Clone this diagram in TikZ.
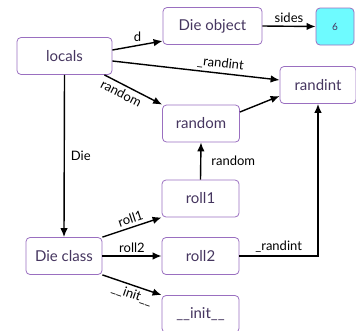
\documentclass[tikz,border=0pt]{standalone}
\usepackage{fontspec}
\setmainfont{Lato}
\usepackage{tikz}
\usetikzlibrary{positioning}
\usetikzlibrary{arrows.meta,calc}
\definecolor{boxline}{HTML}{9A6FC0}
\definecolor{boxtext}{HTML}{45355F}
\definecolor{valfill}{HTML}{6EFBFF}
\tikzset{line/.style={draw, line width=1.4pt, -{Latex[length=9pt,width=7.5pt]}}}
\tikzset{lbl/.style={font=\fontsize{13}{15}\selectfont, inner sep=3pt}}

\begin{document}
\begin{tikzpicture}[x=1pt, y=-1pt]
\tikzstyle{block} = [rectangle, rounded corners=4pt, draw=boxline, line width=0.8pt, text=boxtext, minimum width=77pt, minimum height=37pt, font=\fontsize{15}{17}\selectfont]
\tikzstyle{value} = [block, fill=valfill, minimum width=38pt, font=\fontsize{10}{12}\selectfont]
\useasboundingbox (0,0) rectangle (356,330);

% blocks
    \node [block, minimum width=95pt](locals) at (64.5,56) {locals};
    \node [block, minimum width=99pt](dieobj) at (212.5,26) {Die object};
    \node [value](six) at (335,26.5) {6};
    \node [block, minimum width=76pt](randint) at (318,85) {randint};
    \node [block](random) at (201,123.5) {random};
    \node [block](rollone) at (200.5,198.5) {roll1};
    \node [block, minimum width=76pt](dieclass) at (64,256) {Die class};
    \node [block](rolltwo) at (200.5,256) {roll2};
    \node [block](init) at (200.5,314) {\_\_init\_\_};
% arrows
    \path [line] (locals.east|-0,50) -- node[lbl, above]{d} (dieobj.west|-0,41);
    \path [line] (locals.east|-0,61) -- node[lbl, above, sloped, pos=0.64]{\_randint} (randint.west|-0,80);
    \path [line] (locals.south east) ++(-8,0) -- node[lbl, below, sloped, pos=0.36]{random} (random.north west);
    \path [line] (locals.south) -- node[lbl, right=3pt, pos=0.5]{Die} (dieclass.north);
    \path [line] (random.east|-0,112) -- (randint.west|-0,96);
    \path [line] (rollone.north) -- node[lbl, right=7pt]{random} (random.south);
    \path [line] (dieclass.north east) -- node[lbl, above, sloped, pos=0.52]{roll1} (rollone.south west);
    \path [line] (dieclass.east) -- node[lbl, above]{roll2} (rolltwo.west);
    \path [line] (dieclass.south east) -- node[lbl, below, sloped, pos=0.55]{\_\_init\_\_} (init.north west);
    \path [line] (rolltwo.east) -- node[lbl, above]{\_randint} (randint.south|-rolltwo.east) -- (randint.south);
    \path [line] (dieobj.east) -- node[lbl, above]{sides} (six.west);
\end{tikzpicture}
\end{document}
